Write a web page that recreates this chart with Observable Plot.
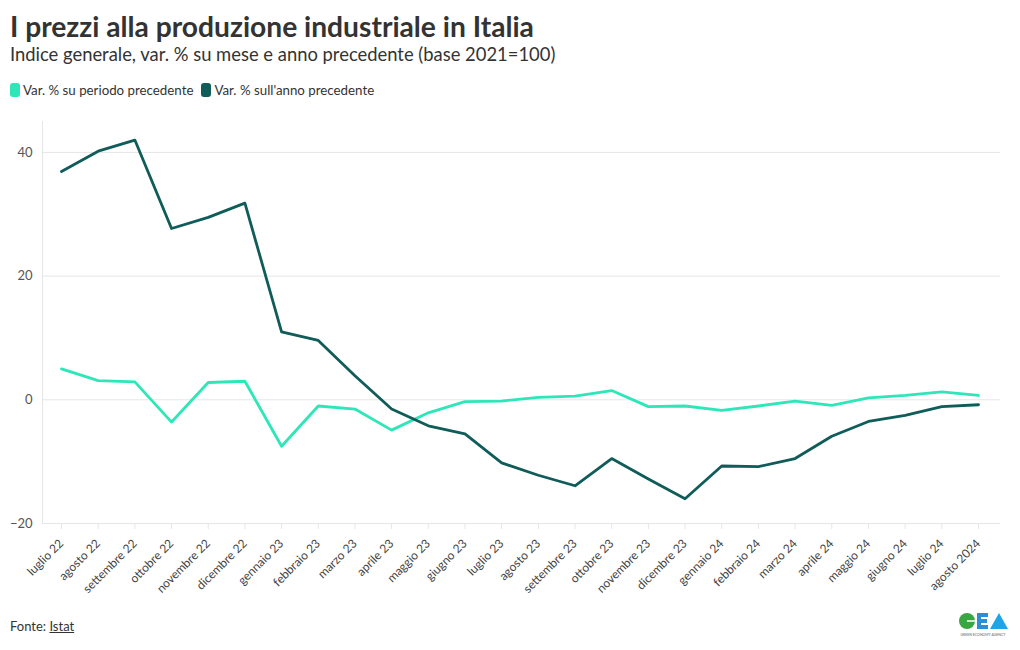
<!DOCTYPE html>
<html>
<head>
<meta charset="utf-8">
<script src="https://cdn.jsdelivr.net/npm/d3@7"></script>
<script src="https://cdn.jsdelivr.net/npm/@observablehq/plot@0.6"></script>
<style>
  html, body { margin: 0; padding: 0; background: #fff; }
  body { width: 1020px; height: 650px; position: relative; overflow: hidden; font-family: "Lato", "Noto Sans", sans-serif; color: #333; }
  .abs { position: absolute; white-space: nowrap; }
  #title { left: 10px; top: 9px; font-size: 28.2px; font-weight: 700; color: #333; }
  #subtitle { left: 10px; top: 43px; font-size: 18.4px; color: #333; }
  #legend { left: 10px; top: 82px; font-size: 13.3px; color: #333; display: flex; align-items: center; }
  .sw { display: inline-block; width: 10px; height: 14px; border-radius: 3px; margin-right: 3px; }
  .item { display: flex; align-items: center; margin-right: 8px; }
  #chart { left: 0; top: 110px; }
  #footer { left: 10px; top: 618px; font-size: 13px; color: #333; }
  #footer u { text-decoration: underline; }
  #logo { left: 956px; top: 610px; }
  #chart svg g[aria-label="x-axis tick"] path { stroke: #e6e6e6; }
</style>
</head>
<body>
<div id="title" class="abs">I prezzi alla produzione industriale in Italia</div>
<div id="subtitle" class="abs">Indice generale, var. % su mese e anno precedente (base 2021=100)</div>
<div id="legend" class="abs"></div>
<div id="chart" class="abs"></div>
<div id="footer" class="abs">Fonte: <u>Istat</u></div>
<div id="logo" class="abs"></div>
<script>
const months = ["luglio 22","agosto 22","settembre 22","ottobre 22","novembre 22","dicembre 22",
  "gennaio 23","febbraio 23","marzo 23","aprile 23","maggio 23","giugno 23","luglio 23","agosto 23",
  "settembre 23","ottobre 23","novembre 23","dicembre 23","gennaio 24","febbraio 24","marzo 24",
  "aprile 24","maggio 24","giugno 24","luglio 24","agosto 2024"];
const varPeriodo = [5.0, 3.1, 2.9, -3.6, 2.8, 3.0, -7.5, -1.0, -1.5, -4.9, -2.1, -0.3, -0.2, 0.4,
  0.6, 1.5, -1.1, -1.0, -1.7, -1.0, -0.2, -0.9, 0.3, 0.7, 1.3, 0.7];
const varAnno = [36.9, 40.2, 42.0, 27.7, 29.5, 31.8, 11.0, 9.6, 3.9, -1.5, -4.2, -5.5, -10.2, -12.2,
  -13.9, -9.5, -12.8, -16.0, -10.7, -10.8, -9.5, -5.9, -3.5, -2.5, -1.1, -0.8];
const seriesNames = ["Var. % su periodo precedente", "Var. % sull'anno precedente"];
const seriesColors = ["#2ee6b8", "#0f5c59"];
const yTicks = [-20, 0, 20, 40];

const legend = document.getElementById("legend");
seriesNames.forEach((n, i) => {
  const it = document.createElement("span");
  it.className = "item";
  it.innerHTML = `<span class="sw" style="background:${seriesColors[i]}"></span><span class="lt">${n}</span>`;
  legend.appendChild(it);
});

const data = months.map((m, i) => ({month: m, periodo: varPeriodo[i], anno: varAnno[i]}));

const plot = Plot.plot({
  width: 1020,
  height: 500,
  marginTop: 11,
  marginBottom: 87,
  marginLeft: 42,
  marginRight: 20,
  style: {fontFamily: "Lato, 'Noto Sans', sans-serif", fontSize: "12.2px", color: "#444", background: "#fff"},
  x: {type: "point", domain: months, range: [61, 978], padding: 0, round: false, label: null},
  y: {domain: [-20, 45], label: null},
  marks: [
    Plot.gridY(yTicks, {stroke: "#e6e6e6", strokeOpacity: 1}),
    Plot.axisY(yTicks, {tickSize: 0, tickPadding: 10, label: null, fontSize: 13, fill: "#555"}),
    Plot.axisX({tickRotate: -45, tickSize: 6, tickPadding: 12, label: null, fill: "#444", fontSize: 12}),
    Plot.line(data, {x: "month", y: "periodo", stroke: seriesColors[0], strokeWidth: 2.8}),
    Plot.line(data, {x: "month", y: "anno", stroke: seriesColors[1], strokeWidth: 2.8})
  ]
});
const ys = plot.scale("y");
d3.select(plot).insert("line", ":first-child")
  .attr("x1", 42.5).attr("x2", 42.5)
  .attr("y1", ys.range[1]).attr("y2", ys.range[0])
  .attr("stroke", "#e6e6e6");
document.getElementById("chart").appendChild(plot);

document.getElementById("logo").innerHTML = `
<svg width="60" height="30" viewBox="0 0 60 30">
  <circle cx="11" cy="11" r="8" fill="#3aa63f"/>
  <path d="M11 11 H19" stroke="#fff" stroke-width="1.5"/>
  <rect x="21" y="3" width="4" height="16" fill="#2a8fd6"/>
  <rect x="21" y="3" width="11" height="4" fill="#2a8fd6"/>
  <rect x="21" y="9" width="10" height="4" fill="#2a8fd6"/>
  <rect x="21" y="15" width="11" height="4" fill="#2a8fd6"/>
  <path d="M34 19 L43 3 L52 19 Z" fill="#1ea5e8"/>
  <text x="27" y="26" font-size="3.5" text-anchor="middle" fill="#666" font-family="Lato">GREEN ECONOMY AGENCY</text>
</svg>`;
</script>
</body>
</html>
